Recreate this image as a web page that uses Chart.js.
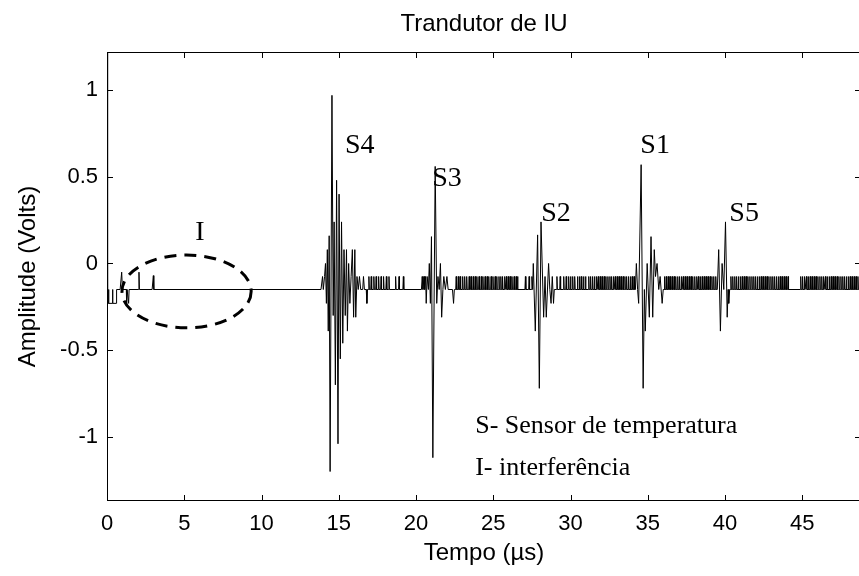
<!DOCTYPE html>
<html>
<head>
<meta charset="utf-8">
<script src="https://cdn.jsdelivr.net/npm/chart.js@4.4.1/dist/chart.umd.min.js"></script>
<style>
  html, body { margin: 0; padding: 0; background: #fff; overflow: hidden; }
  #wrap { width: 862px; height: 576px; }
</style>
</head>
<body>
<div id="wrap"><canvas id="iuChart" width="862" height="576"></canvas></div>
<script>
// transducer trace, time in microseconds, amplitude in volts
let baseline = -0.15,
  noisePeak = -0.075;

let xTicks = [0, 5, 10, 15, 20, 25, 30, 35, 40, 45],
  yTicks = [-1, -0.5, 0, 0.5, 1];

let startBurst = [
  [0, 1.3], [0.04, -0.23], [0.08, -0.23], [0.1, -0.15], [0.12, -0.23],
  [0.34, -0.23], [0.36, -0.15], [0.38, -0.23], [0.6, -0.23], [0.62, -0.15],
  [0.85, -0.15], [0.95, -0.05], [1.0, -0.15], [1.25, -0.15], [1.27, -0.23],
  [1.3, -0.15], [1.4, -0.23], [1.43, -0.15], [2.05, -0.15], [2.07, -0.05],
  [2.1, -0.15], [2.92, -0.15], [3.0, -0.07], [3.03, -0.15],
];

let burstS4 = [
  [13.85, -0.15], [13.95, -0.075], [14.0, -0.15], [14.08, -0.075], [14.14, 0.0],
  [14.2, -0.23], [14.26, 0.08], [14.32, -0.39], [14.38, 0.16], [14.44, -1.2],
  [14.56, 0.97], [14.64, -0.3], [14.7, 0.24], [14.78, -0.7], [14.86, 0.48],
  [14.95, -1.04], [15.02, 0.4], [15.1, -0.55], [15.18, 0.24], [15.26, -0.46],
  [15.34, 0.08], [15.42, -0.3], [15.5, 0.08], [15.56, -0.39], [15.64, 0.0],
  [15.72, -0.23], [15.8, -0.075], [15.88, 0.08], [15.96, -0.31], [16.04, 0.08],
  [16.1, -0.31], [16.18, -0.075], [16.26, -0.15], [16.34, -0.075], [16.42, -0.15],
  [16.55, -0.15], [16.6, -0.075], [16.66, -0.15], [16.78, -0.15], [16.82, -0.23],
  [16.86, -0.15],
];

let burstS3 = [
  [20.35, -0.15], [20.4, -0.075], [20.45, -0.15], [20.52, -0.075], [20.56, -0.15],
  [20.62, -0.075], [20.66, -0.23], [20.72, -0.075], [20.8, -0.15], [20.86, 0.0],
  [20.93, -0.23], [21.0, 0.155], [21.09, -1.12], [21.24, 0.56], [21.34, -0.23],
  [21.42, -0.075], [21.5, -0.15], [21.58, 0.0], [21.66, -0.31], [21.74, -0.15],
  [21.8, -0.075], [21.9, -0.15], [22.0, -0.075], [22.08, -0.15], [22.36, -0.15],
  [22.43, -0.23], [22.48, -0.15],
];

let burstS2 = [
  [27.45, -0.15], [27.5, -0.075], [27.55, -0.15], [27.59, 0.0], [27.72, -0.39],
  [27.87, 0.165], [27.98, -0.72], [28.09, 0.24], [28.26, -0.31], [28.35, -0.075],
  [28.43, -0.31], [28.58, 0.0], [28.66, -0.15], [28.74, -0.23], [28.82, -0.075],
  [28.9, -0.23], [28.95, -0.15],
];

let burstS1 = [
  [34.2, -0.15], [34.26, 0.0], [34.34, -0.15], [34.41, -0.23], [34.57, 0.57],
  [34.7, -0.72], [34.78, -0.15], [34.84, -0.39], [34.96, 0.0], [35.1, -0.31],
  [35.21, 0.155], [35.32, -0.31], [35.42, 0.08], [35.5, -0.075], [35.6, 0.0],
  [35.71, -0.15], [35.8, -0.075], [35.93, -0.23], [36.0, -0.15],
];

let burstS5 = [
  [39.5, -0.15], [39.59, 0.08], [39.7, -0.39], [39.81, 0.0], [39.92, -0.15],
  [40.03, 0.24], [40.14, -0.31], [40.2, -0.15], [40.24, -0.23], [40.3, -0.15],
];

let tail = [[48.9, -0.15]];

// times of the one-step noise blips between the echoes
let noiseA = [16.95, 17.1, 17.27, 17.42, 17.58, 17.74, 17.9, 18.08, 18.25, 18.68, 18.9, 19.18];
let noiseB = [
  22.6, 22.74, 22.86, 23.02, 23.15, 23.28, 23.44, 23.56, 23.7, 23.83, 23.94, 24.08,
  24.22, 24.33, 24.47, 24.6, 24.71, 24.86, 24.98, 25.12, 25.23, 25.37, 25.49, 25.6,
  25.74, 25.85, 25.98, 26.1, 26.21, 26.35, 26.48, 26.57, 27.08, 27.32,
];
let noiseC = [
  29.12, 29.33, 29.56, 29.72, 29.88, 30.0, 30.14, 30.27, 30.45, 30.58, 30.7, 30.84,
  30.97, 31.18, 31.3, 31.43, 31.55, 31.69, 31.8, 31.93, 32.05, 32.18, 32.29, 32.42,
  32.55, 32.66, 32.79, 32.9, 33.03, 33.15, 33.27, 33.4, 33.52, 33.63, 33.76, 33.88,
  34.0, 34.12,
];
let noiseD = [
  36.08, 36.2, 36.33, 36.44, 36.57, 36.7, 36.81, 36.94, 37.06, 37.19, 37.3, 37.43,
  37.55, 37.68, 37.8, 37.91, 38.04, 38.17, 38.28, 38.41, 38.53, 38.66, 38.78, 38.9,
  39.03, 39.15, 39.27, 39.4,
];
let noiseE = [
  40.38, 40.5, 40.63, 40.75, 40.87, 41.0, 41.12, 41.25, 41.37, 41.48, 41.61, 41.74,
  41.86, 41.98, 42.1, 42.23, 42.35, 42.47, 42.6, 42.72, 42.84, 42.97, 43.09, 43.21,
  43.34, 43.46, 43.58, 43.7, 43.83, 43.95, 44.08, 44.9, 45.02, 45.15, 45.27, 45.4,
  45.52, 45.64, 45.77, 45.89, 46.01, 46.14, 46.26, 46.38, 46.5, 46.63, 46.76, 46.88,
  47.0, 47.12, 47.25, 47.37, 47.5, 47.62, 47.74, 47.86, 47.99, 48.11, 48.23, 48.36,
  48.48, 48.6, 48.72,
];

// annotation texts and where they sit (data units)
let echoNames = ["S4", "S3", "S2", "S1", "S5"],
  echoNameAt = [[15.4, 0.68], [21.05, 0.49], [28.1, 0.29], [34.52, 0.68], [40.28, 0.29]],
  noteLines = ["S- Sensor de temperatura", "I- interferência"],
  noteAt = [[23.83, -0.94], [23.83, -1.18]],
  ringI = { cx: 5.15, cy: -0.161, rx: 4.18, ry: 0.21, label: "I", labelAt: [6.02, 0.18] };

let points = [];
let addPairs = (pairs) => pairs.forEach(([t, v]) => points.push({ x: t, y: v }));
let addBlips = (times) =>
  times.forEach((t) => {
    points.push({ x: t - 0.03, y: baseline }, { x: t, y: noisePeak }, { x: t + 0.03, y: baseline });
  });

addPairs(startBurst);
addPairs(burstS4);
addBlips(noiseA);
addPairs(burstS3);
addBlips(noiseB);
addPairs(burstS2);
addBlips(noiseC);
addPairs(burstS1);
addBlips(noiseD);
addPairs(burstS5);
addBlips(noiseE);
addPairs(tail);

let sans = "'Liberation Sans', Arial, sans-serif",
  serif = "'Liberation Serif', 'Times New Roman', serif";

// box round the plot with short ticks pointing inwards, like a matlab axes
let boxPlugin = {
  id: "box",
  afterDatasetsDraw(chart) {
    let { ctx, chartArea: a, scales } = chart;
    let len = 6;
    ctx.save();
    ctx.strokeStyle = "#000";
    ctx.lineWidth = 1;
    ctx.beginPath();
    ctx.rect(a.left + 0.5, a.top + 0.5, a.right - a.left - 1, a.bottom - a.top - 1);
    xTicks.forEach((v) => {
      let px = Math.round(scales.x.getPixelForValue(v)) + 0.5;
      ctx.moveTo(px, a.bottom);
      ctx.lineTo(px, a.bottom - len);
      ctx.moveTo(px, a.top);
      ctx.lineTo(px, a.top + len);
    });
    yTicks.forEach((v) => {
      let py = Math.round(scales.y.getPixelForValue(v)) + 0.5;
      ctx.moveTo(a.left, py);
      ctx.lineTo(a.left + len, py);
      ctx.moveTo(a.right, py);
      ctx.lineTo(a.right - len, py);
    });
    ctx.stroke();
    ctx.restore();
  },
};

let notesPlugin = {
  id: "notes",
  afterDatasetsDraw(chart) {
    let { ctx, scales } = chart;
    let X = (v) => scales.x.getPixelForValue(v),
      Y = (v) => scales.y.getPixelForValue(v);
    ctx.save();
    ctx.fillStyle = "#000";
    ctx.textBaseline = "middle";
    ctx.textAlign = "left";
    ctx.font = "28px " + serif;
    echoNames.forEach((name, i) => ctx.fillText(name, X(echoNameAt[i][0]), Y(echoNameAt[i][1])));
    ctx.font = "26px " + serif;
    noteLines.forEach((line, i) => ctx.fillText(line, X(noteAt[i][0]), Y(noteAt[i][1])));

    // dashed ring round the interference
    let cx = X(ringI.cx),
      cy = Y(ringI.cy),
      rx = X(ringI.cx + ringI.rx) - cx,
      ry = cy - Y(ringI.cy + ringI.ry);
    ctx.strokeStyle = "#000";
    ctx.lineWidth = 3;
    ctx.setLineDash([12, 8]);
    ctx.beginPath();
    ctx.ellipse(cx, cy, rx, ry, 0, 0, Math.PI * 2);
    ctx.stroke();
    ctx.setLineDash([]);
    ctx.font = "28px " + serif;
    ctx.textAlign = "center";
    ctx.fillText(ringI.label, X(ringI.labelAt[0]), Y(ringI.labelAt[1]));
    ctx.restore();
  },
};

new Chart(document.getElementById("iuChart"), {
  type: "line",
  data: {
    datasets: [
      {
        data: points,
        borderColor: "#000",
        borderWidth: 1,
        pointRadius: 0,
        tension: 0,
        fill: false,
      },
    ],
  },
  options: {
    responsive: false,
    animation: false,
    layout: { padding: { left: 0, right: 1, top: 0, bottom: 0 } },
    plugins: {
      legend: { display: false },
      tooltip: { enabled: false },
      title: {
        display: true,
        fullSize: false,
        text: "Trandutor de IU",
        color: "#000",
        font: { family: sans, size: 24, weight: "normal" },
        padding: { top: 10, bottom: 13.2 },
      },
    },
    scales: {
      x: {
        type: "linear",
        min: 0,
        max: 48.8,
        grid: { display: false, drawTicks: false },
        border: { display: false },
        afterBuildTicks: (s) => {
          s.ticks = xTicks.map((v) => ({ value: v }));
        },
        afterFit: (s) => {
          s.height = 75;
        },
        ticks: {
          color: "#000",
          padding: 10,
          maxRotation: 0,
          font: { family: sans, size: 22 },
        },
        title: {
          display: true,
          text: "Tempo (µs)",
          color: "#000",
          font: { family: sans, size: 24 },
          padding: { top: 0, bottom: 8 },
        },
      },
      y: {
        min: -1.37,
        max: 1.22,
        grid: { display: false, drawTicks: false },
        border: { display: false },
        afterBuildTicks: (s) => {
          s.ticks = yTicks.map((v) => ({ value: v }));
        },
        afterFit: (s) => {
          s.width = 107;
        },
        ticks: {
          color: "#000",
          padding: 9,
          font: { family: sans, size: 22 },
          callback: (v) => String(v),
        },
        title: {
          display: true,
          text: "Amplitude (Volts)",
          color: "#000",
          font: { family: sans, size: 24 },
          padding: { top: 14, bottom: 0 },
        },
      },
    },
  },
  plugins: [boxPlugin, notesPlugin],
});
</script>
</body>
</html>
